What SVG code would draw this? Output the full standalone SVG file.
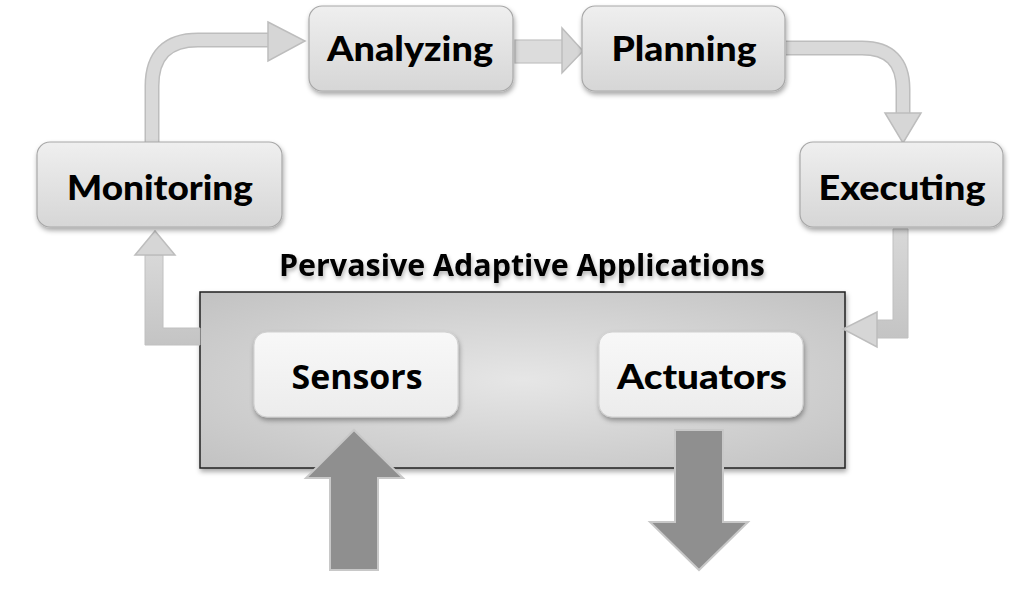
<svg xmlns="http://www.w3.org/2000/svg" width="1023" height="605" viewBox="0 0 1023 605">
<defs>
<linearGradient id="nodeG" x1="0" y1="0" x2="0" y2="1">
<stop offset="0" stop-color="#efefef"/><stop offset="1" stop-color="#d6d6d6"/>
</linearGradient>
<linearGradient id="innerG" x1="0" y1="0" x2="0" y2="1">
<stop offset="0" stop-color="#f8f8f8"/><stop offset="1" stop-color="#ececec"/>
</linearGradient>
<radialGradient id="boxG" cx="0.5" cy="0.5" r="0.7">
<stop offset="0" stop-color="#e6e6e6"/><stop offset="1" stop-color="#c2c2c2"/>
</radialGradient>
<linearGradient id="arrG" x1="0" y1="0" x2="0" y2="1">
<stop offset="0" stop-color="#d8d8d8"/><stop offset="1" stop-color="#c4c4c4"/>
</linearGradient>
<filter id="sh" x="-10%" y="-10%" width="130%" height="140%">
<feDropShadow dx="1" dy="3" stdDeviation="2.5" flood-color="#000" flood-opacity="0.35"/>
</filter>
<filter id="tsh" x="-5%" y="-20%" width="110%" height="160%">
<feDropShadow dx="1" dy="3" stdDeviation="2" flood-color="#000" flood-opacity="0.3"/>
</filter>
</defs>
<style>
.node{fill:url(#nodeG);stroke:#a8a8a8;stroke-width:1.2;filter:url(#sh)}
.inner{fill:url(#innerG);stroke:#d0d0d0;stroke-width:1;filter:url(#sh)}
.lbl{font-family:Lato,"Open Sans","Liberation Sans",sans-serif;font-weight:900;font-size:35px;fill:#000;text-anchor:middle}
.lbl2{font-family:"Open Sans","Liberation Sans",sans-serif;font-weight:700;font-size:34px;fill:#000;text-anchor:middle}
.shaft{fill:none;stroke:#bdbdbd;stroke-width:15}
.shaftIn{fill:none;stroke:#d9d9d9;stroke-width:12}
.head{fill:#d6d6d6;stroke:#bdbdbd;stroke-width:1.5}
.big{fill:#8f8f8f;stroke:#c8c8c8;stroke-width:2}
</style>

<g id="pervasive-box">
<rect x="200" y="292" width="645" height="176" fill="url(#boxG)" stroke="#222" stroke-width="1.5" filter="url(#sh)"/>
<text x="522" y="276" font-family="'Open Sans','Liberation Sans',sans-serif" font-weight="700" font-size="30" text-anchor="middle" textLength="486" lengthAdjust="spacingAndGlyphs" filter="url(#tsh)">Pervasive Adaptive Applications</text>
</g>

<g id="connectors">
<path class="shaft" d="M152,142 V86 Q152,40 198,40 H270"/>
<path class="shaftIn" d="M152,142 V86 Q152,40 198,40 H270"/>
<polygon class="head" points="268,22 305,41 268,61"/>
<rect x="515" y="40" width="48" height="23" fill="#dcdcdc" stroke="#c2c2c2" stroke-width="1.2"/>
<polygon class="head" points="562,28 583,51 562,73"/>
<path class="shaft" d="M786,48 H862 Q903,48 903,89 V115"/>
<path class="shaftIn" d="M786,48 H862 Q903,48 903,89 V115"/>
<polygon class="head" points="885,113 921,113 903,143"/>
<path d="M893,229 H908 V338 H877 V320 H893 Z" fill="url(#arrG)" stroke="#c0c0c0" stroke-width="1"/>
<polygon class="head" points="877,312 877,347 843,329"/>
<path d="M145,255 H163 V328 H200 V345 H145 Z" fill="url(#arrG)" stroke="#c0c0c0" stroke-width="1"/>
<polygon class="head" points="135,255 175,255 155,231"/>
<polygon class="big" points="330,570 378,570 378,478 403,478 354,430 306,478 330,478"/>
<polygon class="big" points="675,430 723,430 723,522 748,522 699,570 650,522 675,522"/>
</g>

<g id="monitoring">
<rect class="node" x="37" y="142" width="245" height="85" rx="13"/>
<text class="lbl" x="160" y="200" textLength="186" lengthAdjust="spacingAndGlyphs">Monitoring</text>
</g>
<g id="analyzing">
<rect class="node" x="309" y="6" width="204" height="85" rx="13"/>
<text class="lbl" x="410" y="61" textLength="166" lengthAdjust="spacingAndGlyphs">Analyzing</text>
</g>
<g id="planning">
<rect class="node" x="582" y="6" width="203" height="85" rx="13"/>
<text class="lbl" x="684" y="61" textLength="145" lengthAdjust="spacingAndGlyphs">Planning</text>
</g>
<g id="executing">
<rect class="node" x="800" y="142" width="203" height="85" rx="13"/>
<text class="lbl" x="902" y="200" textLength="167" lengthAdjust="spacingAndGlyphs">Executing</text>
</g>
<g id="sensors">
<rect class="inner" x="254" y="332" width="204" height="85" rx="13"/>
<text class="lbl2" x="357" y="389" textLength="131" lengthAdjust="spacingAndGlyphs">Sensors</text>
</g>
<g id="actuators">
<rect class="inner" x="599" y="332" width="204" height="85" rx="13"/>
<text class="lbl" x="702" y="389" textLength="170" lengthAdjust="spacingAndGlyphs">Actuators</text>
</g>
</svg>
